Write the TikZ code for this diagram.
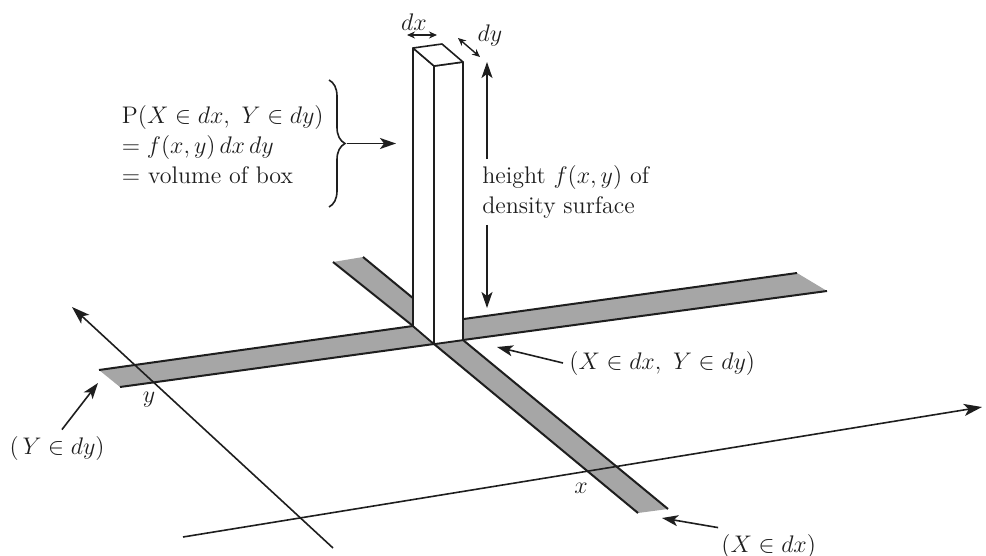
\documentclass[tikz,border=0pt]{standalone}
\usepackage{amsmath,amssymb}
\usetikzlibrary{arrows.meta,decorations.pathreplacing}
\definecolor{stripfill}{HTML}{A6A6A6}
\definecolor{inkline}{HTML}{1E1E1E}
\tikzset{
  strip/.style={fill=stripfill, draw=none},
  stripedge/.style={draw=inkline, line width=1pt, line join=round},
  axis/.style={-{Stealth[length=9pt,width=6pt,inset=2.2pt]}, draw=inkline, line width=0.8pt},
  boxface/.style={fill=white, draw=inkline, line width=0.8pt, line join=round},
  ptr/.style={-{Stealth[length=8pt,width=5.5pt,inset=2pt]}, draw=inkline, line width=0.8pt},
  dimarr/.style={{Stealth[length=4pt,width=3.5pt]}-{Stealth[length=4pt,width=3.5pt]}, draw=inkline, line width=0.7pt},
  lbl/.style={font=\fontsize{12}{15}\selectfont, text=inkline, inner sep=3pt},
  brc/.style={decorate, decoration={brace, amplitude=8pt}, draw=inkline, line width=0.8pt},
}

\begin{document}
\begin{tikzpicture}[x=0.5pt,y=-0.5pt]
  \useasboundingbox (0,0) rectangle (986,556);
  % corners of the two strips and of the box
  \coordinate (pa) at (99,370);   \coordinate (pb) at (797,273);
  \coordinate (pc) at (827,291);  \coordinate (pd) at (120,387);
  \coordinate (qa) at (333,262);  \coordinate (qb) at (363,257);
  \coordinate (qc) at (668,509);  \coordinate (qd) at (638,513);
  \coordinate (ba) at (413,326);  \coordinate (bb) at (434,344);
  \coordinate (bc) at (463,340);  \coordinate (bd) at (442,322);
  \coordinate (ta) at (413,48);   \coordinate (tb) at (434,66);
  \coordinate (tc) at (463,62);   \coordinate (td) at (442,44);
  % strips
  \fill[strip] (pa) -- (ba) -- (bd) -- (pb) -- (pc) -- (bc) -- (bb) -- (pd) -- cycle;
  \fill[strip] (qa) -- (qb) -- (bd) -- (bc) -- (qc) -- (qd) -- (bb) -- (ba) -- cycle;
  \draw[stripedge] (pa) -- (ba) -- (bd) -- (pb);
  \draw[stripedge] (pd) -- (bb) -- (bc) -- (pc);
  \draw[stripedge] (qa) -- (ba) -- (bb) -- (qd);
  \draw[stripedge] (qb) -- (bd) -- (bc) -- (qc);
  % axes
  \coordinate (ya) at (333,548);  \coordinate (yb) at (72,307);
  \coordinate (xa) at (183,537);  \coordinate (xb) at (982,407);
  \draw[axis] (ya) -- (yb);
  \draw[axis] (xa) -- (xb);
  % box
  \draw[boxface] (ba) -- (bb) -- (tb) -- (ta) -- cycle;
  \draw[boxface] (bb) -- (bc) -- (tc) -- (tb) -- cycle;
  \draw[boxface] (ta) -- (tb) -- (tc) -- (td) -- cycle;
  % widths of the box
  \node[lbl] (tdx) at (414,22) {$dx$};
  \node[lbl] (tdy) at (490,36) {$dy$};
  \coordinate (dxl) at (407,35);  \coordinate (dxr) at (437,35);
  \coordinate (dyl) at (458,38);  \coordinate (dyr) at (480,57);
  \draw[dimarr] (dxl) -- (dxr);
  \draw[dimarr] (dyl) -- (dyr);
  % height
  \node[lbl, anchor=west, align=left] (hgt) at (476,192) {height $f(x,y)$ of\\density surface};
  \coordinate (htop) at (487,62);  \coordinate (hbot) at (487,308);
  \draw[ptr] (hgt.north -| htop) -- (htop);
  \draw[ptr] (hgt.south -| hbot) -- (hbot);
  % probability
  \node[lbl, anchor=east, align=left] (prob) at (330,145) {$\mathrm{P}(X\in dx,\ Y\in dy)$\\$=f(x,y)\,dx\,dy$\\$=$ volume of box};
  \coordinate (brtop) at (329,80);  \coordinate (brbot) at (329,207);
  \draw[brc] (brtop) -- (brbot);
  \coordinate (brtip) at (347,143.5);  \coordinate (brhit) at (396,143.5);
  \draw[ptr] (brtip) -- (brhit);
  % events
  \node[lbl, anchor=west] (lxy) at (563,363) {$(X\in dx,\ Y\in dy)$};
  \node[lbl, anchor=west] (lx) at (715,546) {$(X\in dx)$};
  \node[lbl] (ly) at (57,448) {$(\,Y\in dy)$};
  \coordinate (cxy) at (497,347);
  \coordinate (cx) at (662,518);
  \coordinate (cy) at (98,383);
  \draw[ptr] (lxy.west) -- (cxy);
  \draw[ptr] (lx.160) -- (cx);
  \draw[ptr] (ly.75) -- (cy);
  \node[lbl] (ty) at (149,400) {$y$};
  \node[lbl] (tx) at (581,488) {$x$};
\end{tikzpicture}
\end{document}
